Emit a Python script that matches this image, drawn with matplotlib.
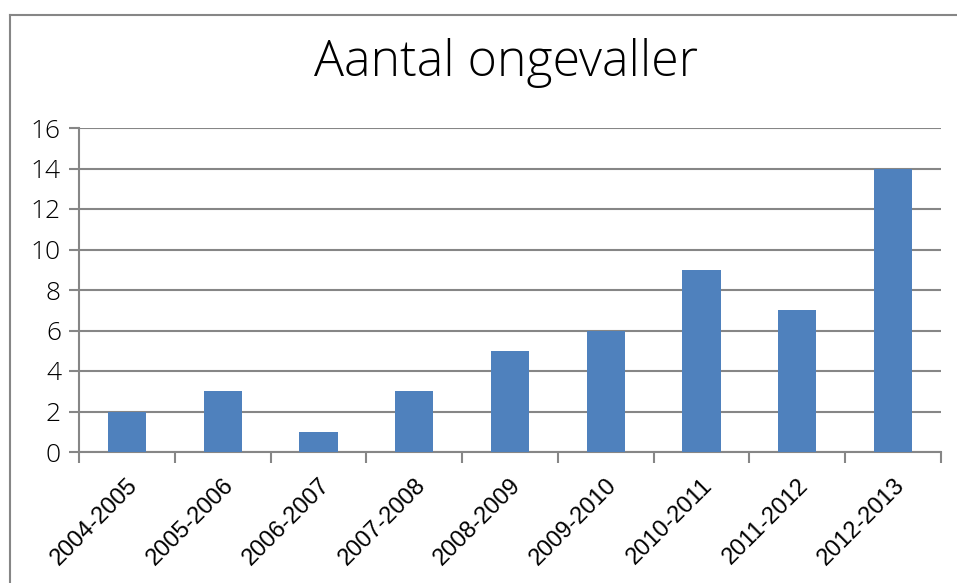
import numpy as np
import matplotlib.pyplot as plt
from matplotlib.lines import Line2D

# Gegevens
seizoenen = ['2004-2005', '2005-2006', '2006-2007', '2007-2008', '2008-2009',
             '2009-2010', '2010-2011', '2011-2012', '2012-2013']
ongevallen = [2, 3, 1, 3, 5, 6, 9, 7, 14]
y_ticks = [0, 2, 4, 6, 8, 10, 12, 14, 16]

plt.rcParams['font.family'] = ['Open Sans', 'DejaVu Sans']
grijs = '#868686'

fig = plt.figure(figsize=(9.57, 5.83), dpi=100)
ax = fig.add_axes([79 / 957, 1 - 452 / 583, 862 / 957, 324 / 583])

x = np.arange(len(seizoenen))
ax.bar(x, ongevallen, width=0.4, color='#4F81BD', zorder=3)

ax.set_xlim(-0.5, len(seizoenen) - 0.5)
ax.set_ylim(0, 16)
ax.set_yticks(y_ticks)
ax.set_yticklabels([str(v) for v in y_ticks], fontsize=19, fontweight='light')
ax.yaxis.grid(True, color=grijs, linewidth=1.5, zorder=0)

# Labels in het midden, streepjes op de grenzen
ax.set_xticks(x)
ax.set_xticklabels(seizoenen, rotation=45, ha='right', rotation_mode='anchor',
                   fontsize=17, family=['Liberation Sans', 'DejaVu Sans'])
ax.set_xticks(np.arange(-0.5, len(seizoenen)), minor=True)
ax.tick_params(axis='x', which='major', length=0, pad=16)
ax.tick_params(axis='x', which='minor', length=8, width=1.5, color=grijs)
ax.tick_params(axis='y', length=7, width=1.5, color=grijs, pad=6)

for s in ['top', 'right']:
    ax.spines[s].set_visible(False)
for s in ['left', 'bottom']:
    ax.spines[s].set_color(grijs)
    ax.spines[s].set_linewidth(1.5)

fig.text(0.5 + 28 / 957, 1 - 63 / 583, 'Aantal ongevaller', ha='center', va='center',
         fontsize=36, fontweight='light')

# Kader van de grafiek
fig.add_artist(Line2D([10 / 957, 1], [1 - 15 / 583] * 2, color=grijs, linewidth=1.5))
fig.add_artist(Line2D([10 / 957] * 2, [0, 1 - 15 / 583], color=grijs, linewidth=1.5))

fig.savefig('out.png', dpi=100, facecolor='white')
